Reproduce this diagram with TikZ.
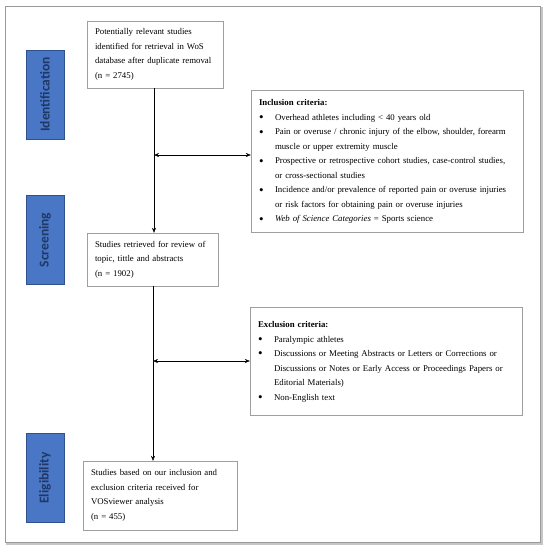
\documentclass[tikz,border=0pt]{standalone}
\usepackage{fontspec}
\setmainfont{Liberation Serif}
\newfontfamily\stagefont{Carlito}
\usetikzlibrary{arrows.meta,positioning,shapes}

\definecolor{stageblue}{HTML}{4A76C6}
\definecolor{stageedge}{HTML}{2F528F}
\definecolor{stagetext}{HTML}{1F3864}

\tikzset{
  box/.style={draw=gray!75,fill=white,align=left,inner sep=8pt,
    font=\fontsize{8.8}{14.5}\selectfont},
  stage/.style={draw=stageedge,fill=stageblue,thick,rotate=90,
    minimum width=89pt,minimum height=38pt,text=stagetext,
    font=\stagefont\bfseries\fontsize{13.5}{15}\selectfont},
  tip/.style={-{Stealth[length=5pt,width=4pt]},thin},
  twotip/.style={{Stealth[length=5pt,width=4pt]}-{Stealth[length=5pt,width=4pt]},thin},
}
\newcommand{\critlist}[2]{%
  \begin{tabular}{@{}p{16pt}@{}p{#1}@{}}#2\end{tabular}}
\newcommand{\dotitem}{\raisebox{-1.3pt}{\fontsize{13}{10}\selectfont\textbullet}}

\begin{document}
\begin{tikzpicture}[x=1pt,y=-1pt]
\useasboundingbox (0,0) rectangle (546,550);
% frame
\draw[gray!45,line width=1.6pt] (7,8) rectangle (542,544);
\draw[gray!80,line width=0.8pt,fill=white] (5,6) rectangle (540,542);

% stages
\node[stage] (sid) at (45,94.5) {Identification};
\node[stage] (ssc) at (45,240) {Screening};
\node[stage] (sel) at (45,478) {Eligibility};

% boxes
\node[box,text width=120pt,minimum height=61pt] (found) at (155,54.5)
  {Potentially relevant studies\\identified for retrieval in WoS\\database after duplicate removal\\(n = 2745)};
\node[box,text width=115pt,minimum height=49pt] (screen) at (152.5,259.5)
  {Studies retrieved for review of\\topic, tittle and abstracts\\(n = 1902)};
\node[box,text width=138pt,minimum height=69pt] (elig) at (160,495.5)
  {Studies based on our inclusion and\\exclusion criteria received for\\VOSviewer analysis\\(n = 455)};

\node[box,inner sep=0pt,text width=256pt,minimum width=272pt,minimum height=142pt] (incl) at (387,161)
  {\critlist{240pt}{%
   \multicolumn{2}{@{}l@{}}{\textbf{Inclusion criteria:}}\\
   \dotitem & Overhead athletes including < 40 years old\\
   \dotitem & Pain or overuse / chronic injury of the elbow, shoulder, forearm muscle or upper extremity muscle\\
   \dotitem & Prospective or retrospective cohort studies, case-control studies, or cross-sectional studies\\
   \dotitem & Incidence and/or prevalence of reported pain or overuse injuries or risk factors for obtaining pain or overuse injuries\\
   \dotitem & \textit{Web of Science Categories} = Sports science}};
\node[box,inner sep=0pt,text width=256pt,minimum width=272pt,minimum height=108pt] (excl) at (386,361)
  {\critlist{240pt}{%
   \multicolumn{2}{@{}l@{}}{\textbf{Exclusion criteria:}}\\
   \dotitem & Paralympic athletes\\
   \dotitem & Discussions or Meeting Abstracts or Letters or Corrections or Discussions or Notes or Early Access or Proceedings Papers or Editorial Materials)\\
   \dotitem & Non-English text}};

% connectors
\coordinate (inarrow) at (154,155);
\coordinate (exarrow) at (153,361);
\draw[tip] (found.south -| inarrow) -- (screen.north -| inarrow);
\draw[tip] (screen.south -| exarrow) -- (elig.north -| exarrow);
\draw[twotip] (inarrow) -- (incl.west |- inarrow);
\draw[twotip] (exarrow) -- (excl.west);
\end{tikzpicture}
\end{document}
